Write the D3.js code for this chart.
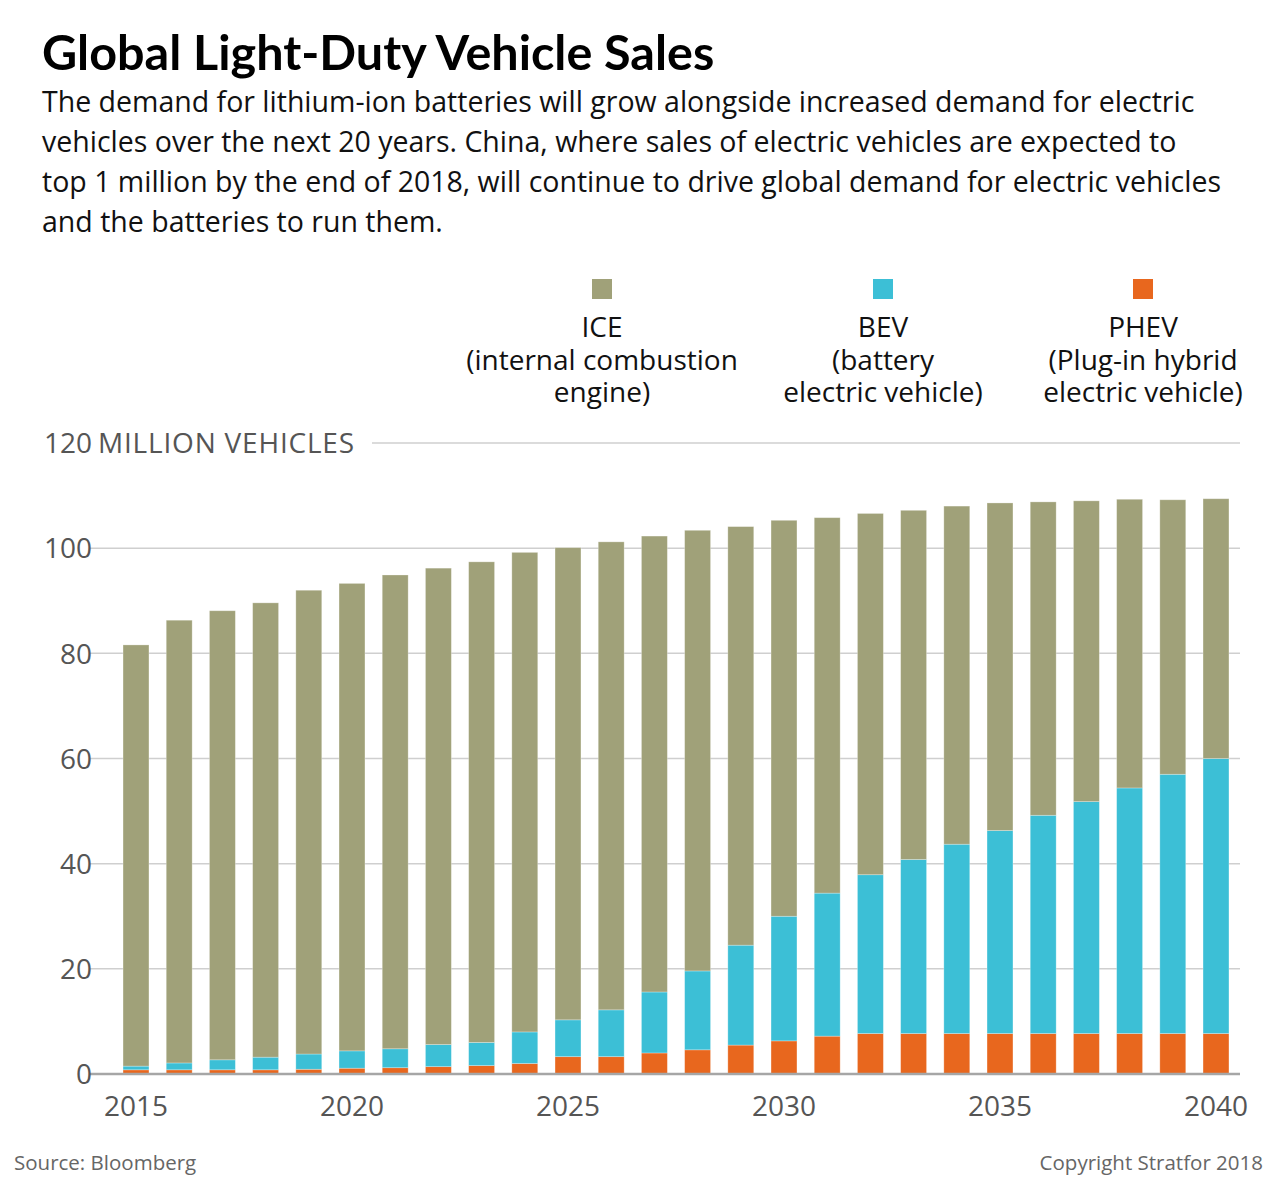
<!DOCTYPE html>
<html lang="en">
<head>
<meta charset="UTF-8">
<title>Global Light-Duty Vehicle Sales</title>
<script src="https://cdn.jsdelivr.net/npm/d3@7"></script>
<style>
  body { margin: 0; background: #fff; }
  svg { display: block; font-family: "Open Sans", Lato, sans-serif; }
  .title { font-family: Lato, sans-serif; font-weight: 700; font-size: 48.5px; fill: #000; }
  .sub { font-size: 28.5px; fill: #111; }
  .leg { font-size: 28px; fill: #111; }
  .tick text { font-size: 28px; fill: #555; font-family: "Open Sans", sans-serif; }
  .note { font-size: 20.5px; fill: #666; }
</style>
</head>
<body>
<div id="chart"></div>
<script>
// data (million vehicles)
const years = [2015,2016,2017,2018,2019,2020,2021,2022,2023,2024,2025,2026,2027,2028,2029,2030,2031,2032,2033,2034,2035,2036,2037,2038,2039,2040]
const phev = [0.8,0.8,0.8,0.8,0.9,1.1,1.2,1.4,1.6,2.0,3.3,3.3,4.0,4.6,5.5,6.3,7.2,7.7,7.7,7.7,7.7,7.7,7.7,7.7,7.7,7.7]
const bev = [0.7,1.3,1.9,2.4,2.9,3.3,3.6,4.2,4.4,6.0,7.0,8.9,11.6,15.0,19.0,23.7,27.2,30.2,33.1,36.0,38.6,41.5,44.1,46.7,49.3,52.3]
const ice = [80.1,84.2,85.4,86.4,88.2,88.9,90.1,90.6,91.4,91.2,89.8,89.0,86.7,83.8,79.6,75.3,71.4,68.7,66.4,64.3,62.3,59.6,57.2,54.9,52.2,49.4]
const yTicks = [0,20,40,60,80,100,120]
const xTicks = [2015,2020,2025,2030,2035,2040]

const keys = ["phev","bev","ice"]
const colors = {ice:"#a0a179", bev:"#3cbfd6", phev:"#e8671e"}
const legend = [
  {key:"ice", x:602, lines:["ICE","(internal combustion","engine)"]},
  {key:"bev", x:883, lines:["BEV","(battery","electric vehicle)"]},
  {key:"phev", x:1143, lines:["PHEV","(Plug-in hybrid","electric vehicle)"]}
]
const subtitle = [
  "The demand for lithium-ion batteries will grow alongside increased demand for electric",
  "vehicles over the next 20 years. China, where sales of electric vehicles are expected to",
  "top 1 million by the end of 2018, will continue to drive global demand for electric vehicles",
  "and the batteries to run them."
]

let width = 1280, height = 1191
let rows = years.map((y,i) => ({year:y, phev:phev[i], bev:bev[i], ice:ice[i]}))

let svg = d3.select("#chart").append("svg").attr("width",width).attr("height",height)

svg.append("text").attr("class","title").attr("x",42).attr("y",70).text("Global Light-Duty Vehicle Sales")
svg.selectAll(".sub").data(subtitle).enter().append("text").attr("class","sub")
  .attr("x",42).attr("y",(d,i)=>112+i*40).text(d=>d)

// legend
let lg = svg.selectAll(".lg").data(legend).enter().append("g").attr("class","lg")
  .attr("transform",d=>"translate("+d.x+",0)")
lg.append("rect").attr("x",-10).attr("y",279).attr("width",20).attr("height",20).attr("fill",d=>colors[d.key])
lg.each(function(d){
  d3.select(this).selectAll("text").data(d.lines).enter().append("text").attr("class","leg")
    .attr("text-anchor","middle").attr("y",(t,i)=>337+i*32.5).text(t=>t)
})

let x = d3.scaleBand().domain(years).range([114.4,1237.6]).paddingInner(0.4).paddingOuter(0.2)
let y = d3.scaleLinear().domain([0,120]).range([1074,443])

// grid
svg.append("g").selectAll("line").data(yTicks.filter(d=>d>0)).enter().append("line")
  .attr("x1",d=>d==120?372:90).attr("x2",1240)
  .attr("y1",d=>y(d)).attr("y2",d=>y(d))
  .attr("stroke","#cfcfcf").attr("stroke-width",1.5)

// bars
let stack = d3.stack().keys(keys)(rows)
svg.append("g").selectAll("g").data(stack).enter().append("g")
  .attr("fill",d=>colors[d.key])
  .selectAll("rect").data(d=>d).enter().append("rect")
  .attr("x",d=>x(d.data.year)).attr("width",x.bandwidth())
  .attr("y",d=>y(d[1])).attr("height",d=>y(d[0])-y(d[1]))
  .attr("stroke","#fff").attr("stroke-opacity",0.35).attr("stroke-width",0.8)

// baseline
svg.append("line").attr("x1",90).attr("x2",1240).attr("y1",y(0)).attr("y2",y(0))
  .attr("stroke","#a6a6a6").attr("stroke-width",2.5)

// axes
let yAxis = d3.axisLeft(y).tickValues(yTicks).tickSize(0).tickPadding(0)
let yg = svg.append("g").attr("transform","translate(92,0)").call(yAxis)
yg.select(".domain").remove()
yg.selectAll(".tick text").attr("dy","0.35em")
svg.append("text").attr("x",98).attr("y",y(120)).attr("dy","0.35em")
  .style("font-size","28px").style("letter-spacing","0.8px").attr("fill","#555").text("MILLION VEHICLES")

let xAxis = d3.axisBottom(x).tickValues(xTicks).tickSize(0).tickPadding(22)
let xg = svg.append("g").attr("transform","translate(0,"+y(0)+")").call(xAxis)
xg.select(".domain").remove()

svg.append("text").attr("class","note").attr("x",14).attr("y",1170).text("Source: Bloomberg")
svg.append("text").attr("class","note").attr("x",1263).attr("y",1170).attr("text-anchor","end").text("Copyright Stratfor 2018")
</script>
</body>
</html>
